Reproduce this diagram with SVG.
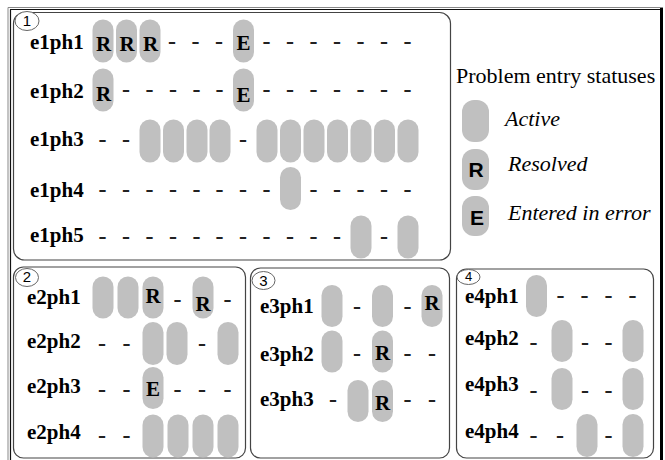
<svg xmlns="http://www.w3.org/2000/svg" width="665" height="460" viewBox="0 0 665 460">
<style>
.frame{fill:none;stroke:#444;stroke-width:1.2}
.p{fill:#c0c0c0}
.lb{font-family:'Liberation Serif',serif;font-weight:bold;font-size:21px;fill:#000}
.pl{font-family:'Liberation Serif',serif;font-weight:bold;font-size:21px;fill:#000;text-anchor:middle}
.d{font-family:'Liberation Serif',serif;font-weight:bold;font-size:24px;fill:#222;text-anchor:middle}
.num{font-family:'Liberation Sans',sans-serif;font-size:15px;fill:#000;text-anchor:middle}
.badge{fill:#fff;stroke:#666;stroke-width:1}
.lg{font-family:'Liberation Serif',serif;font-size:22px;fill:#000}
.lgi{font-family:'Liberation Serif',serif;font-style:italic;font-size:22px;fill:#000}
.ls{font-family:'Liberation Sans',sans-serif;font-weight:bold;font-size:21px;fill:#000;text-anchor:middle}
</style>
<rect width="665" height="460" fill="#fff"/>
<g id="outer-frame">
<line x1="8" y1="7.5" x2="663" y2="7.5" stroke="#888" stroke-width="1"/>
<line x1="10" y1="9.5" x2="660" y2="9.5" stroke="#111" stroke-width="1.2"/>
<line x1="8" y1="7.5" x2="8" y2="460" stroke="#888" stroke-width="1"/>
<line x1="10.5" y1="9.5" x2="10.5" y2="460" stroke="#111" stroke-width="1.2"/>
<rect x="660" y="8" width="3" height="452" fill="#000"/>
</g>

<g id="panel1">
<rect class="frame" x="13.5" y="12.5" width="437" height="247.5" rx="11"/>
<ellipse class="badge" cx="27" cy="21" rx="12" ry="9.5"/>
<text class="num" x="27" y="26">1</text>
<g id="e1ph1">
<text class="lb" x="30" y="48.5">e1ph1</text>
<rect class="p" x="92.5" y="19.5" width="21" height="43" rx="10.5"/>
<rect class="p" x="116" y="19.5" width="21" height="43" rx="10.5"/>
<rect class="p" x="139.5" y="19.5" width="21" height="43" rx="10.5"/>
<rect class="p" x="233" y="19.5" width="21" height="43" rx="10.5"/>
<text class="pl" x="103.5" y="51">R</text>
<text class="pl" x="127" y="51">R</text>
<text class="pl" x="150.5" y="51">R</text>
<text class="pl" x="243.5" y="50">E</text>
<text class="d" x="172" y="48.5">-</text><text class="d" x="195.5" y="48.5">-</text><text class="d" x="219" y="48.5">-</text>
<text class="d" x="266.5" y="48.5">-</text><text class="d" x="290" y="48.5">-</text><text class="d" x="313.5" y="48.5">-</text><text class="d" x="337" y="48.5">-</text><text class="d" x="360.5" y="48.5">-</text><text class="d" x="384" y="48.5">-</text><text class="d" x="407.5" y="48.5">-</text>
</g>
<g id="e1ph2">
<text class="lb" x="30" y="98">e1ph2</text>
<rect class="p" x="92.5" y="68.5" width="21" height="43" rx="10.5"/>
<rect class="p" x="233" y="68.5" width="21" height="43" rx="10.5"/>
<text class="pl" x="103.5" y="100.5">R</text>
<text class="pl" x="243.5" y="102">E</text>
<text class="d" x="126" y="96.5">-</text><text class="d" x="149.5" y="96.5">-</text><text class="d" x="173" y="96.5">-</text><text class="d" x="196.5" y="96.5">-</text><text class="d" x="219.5" y="96.5">-</text>
<text class="d" x="266.5" y="96.5">-</text><text class="d" x="290" y="96.5">-</text><text class="d" x="313.5" y="96.5">-</text><text class="d" x="337" y="96.5">-</text><text class="d" x="360.5" y="96.5">-</text><text class="d" x="384" y="96.5">-</text><text class="d" x="407.5" y="96.5">-</text>
</g>
<g id="e1ph3">
<text class="lb" x="30" y="145.5">e1ph3</text>
<text class="d" x="102.5" y="147">-</text><text class="d" x="126" y="147">-</text>
<rect class="p" x="139.5" y="119.5" width="21" height="43" rx="10.5"/>
<rect class="p" x="163" y="119.5" width="21" height="43" rx="10.5"/>
<rect class="p" x="186.5" y="119.5" width="21" height="43" rx="10.5"/>
<rect class="p" x="209.5" y="119.5" width="21" height="43" rx="10.5"/>
<text class="d" x="243" y="147">-</text>
<rect class="p" x="256.5" y="119.5" width="21" height="43" rx="10.5"/>
<rect class="p" x="280" y="119.5" width="21" height="43" rx="10.5"/>
<rect class="p" x="303.5" y="119.5" width="21" height="43" rx="10.5"/>
<rect class="p" x="327" y="119.5" width="21" height="43" rx="10.5"/>
<rect class="p" x="350.5" y="119.5" width="21" height="43" rx="10.5"/>
<rect class="p" x="374" y="119.5" width="21" height="43" rx="10.5"/>
<rect class="p" x="397.5" y="119.5" width="21" height="43" rx="10.5"/>
</g>
<g id="e1ph4">
<text class="lb" x="30" y="196.5">e1ph4</text>
<text class="d" x="102.5" y="196.5">-</text><text class="d" x="126" y="196.5">-</text><text class="d" x="149.5" y="196.5">-</text><text class="d" x="173" y="196.5">-</text><text class="d" x="196.5" y="196.5">-</text><text class="d" x="219.5" y="196.5">-</text><text class="d" x="243" y="196.5">-</text><text class="d" x="266.5" y="196.5">-</text>
<rect class="p" x="280" y="167" width="21" height="43" rx="10.5"/>
<text class="d" x="313.5" y="196.5">-</text><text class="d" x="337" y="196.5">-</text><text class="d" x="360.5" y="196.5">-</text><text class="d" x="384" y="196.5">-</text><text class="d" x="407.5" y="196.5">-</text>
</g>
<g id="e1ph5">
<text class="lb" x="30" y="242">e1ph5</text>
<text class="d" x="102.5" y="243.5">-</text><text class="d" x="126" y="243.5">-</text><text class="d" x="149.5" y="243.5">-</text><text class="d" x="173" y="243.5">-</text><text class="d" x="196.5" y="243.5">-</text><text class="d" x="219.5" y="243.5">-</text><text class="d" x="243" y="243.5">-</text><text class="d" x="266.5" y="243.5">-</text><text class="d" x="290" y="243.5">-</text><text class="d" x="313.5" y="243.5">-</text><text class="d" x="337" y="243.5">-</text>
<rect class="p" x="350.5" y="215.5" width="21" height="43" rx="10.5"/>
<text class="d" x="384" y="243.5">-</text>
<rect class="p" x="397.5" y="215.5" width="21" height="43" rx="10.5"/>
</g>
</g>

<g id="legend">
<text class="lg" x="456" y="83">Problem entry statuses</text>
<rect class="p" x="462" y="100" width="27" height="42" rx="12"/>
<text class="lgi" x="505" y="126">Active</text>
<rect class="p" x="462" y="149" width="27" height="41" rx="12"/>
<text class="ls" x="476" y="177">R</text>
<text class="lgi" x="508" y="171">Resolved</text>
<rect class="p" x="462" y="196" width="27" height="40" rx="12"/>
<text class="ls" x="477" y="225">E</text>
<text class="lgi" x="508" y="220">Entered in error</text>
</g>

<g id="panel2">
<rect class="frame" x="13.5" y="267" width="232" height="191" rx="10"/>
<ellipse class="badge" cx="27" cy="277.5" rx="11.5" ry="9"/>
<text class="num" x="27" y="282">2</text>
<g id="e2ph1">
<text class="lb" x="27" y="304">e2ph1</text>
<rect class="p" x="92.5" y="276.5" width="21" height="42" rx="10.5"/>
<rect class="p" x="117.5" y="276.5" width="21" height="42" rx="10.5"/>
<rect class="p" x="142.5" y="276.5" width="21" height="42" rx="10.5"/>
<rect class="p" x="192.5" y="276.5" width="21" height="42" rx="10.5"/>
<text class="pl" x="153" y="302.5">R</text>
<text class="d" x="177.5" y="307">-</text>
<text class="pl" x="203" y="311">R</text>
<text class="d" x="227.5" y="307">-</text>
</g>
<g id="e2ph2">
<text class="lb" x="27" y="347.5">e2ph2</text>
<text class="d" x="102" y="350.5">-</text><text class="d" x="126.5" y="350.5">-</text>
<rect class="p" x="142.5" y="322" width="21" height="43" rx="10.5"/>
<rect class="p" x="166.5" y="322" width="21" height="43" rx="10.5"/>
<text class="d" x="202" y="350.5">-</text>
<rect class="p" x="217.5" y="322" width="21" height="43" rx="10.5"/>
</g>
<g id="e2ph3">
<text class="lb" x="27" y="392.5">e2ph3</text>
<text class="d" x="102" y="397">-</text><text class="d" x="126.5" y="397">-</text>
<rect class="p" x="142.5" y="367" width="21" height="42" rx="10.5"/>
<text class="pl" x="153" y="396">E</text>
<text class="d" x="177.5" y="397">-</text><text class="d" x="202" y="397">-</text><text class="d" x="227.5" y="397">-</text>
</g>
<g id="e2ph4">
<text class="lb" x="27" y="438.5">e2ph4</text>
<text class="d" x="102" y="443">-</text><text class="d" x="126.5" y="443">-</text>
<rect class="p" x="142.5" y="414.5" width="21" height="43" rx="10.5"/>
<rect class="p" x="167.5" y="414.5" width="21" height="43" rx="10.5"/>
<rect class="p" x="192.5" y="414.5" width="21" height="43" rx="10.5"/>
<rect class="p" x="217.5" y="414.5" width="21" height="43" rx="10.5"/>
</g>
</g>

<g id="panel3">
<rect class="frame" x="250.5" y="268" width="199" height="190" rx="10"/>
<ellipse class="badge" cx="263.5" cy="280.5" rx="11.5" ry="9"/>
<text class="num" x="263.5" y="286">3</text>
<g id="e3ph1">
<text class="lb" x="260" y="312.5">e3ph1</text>
<rect class="p" x="321.5" y="285" width="21" height="42" rx="10.5"/>
<text class="d" x="357" y="313.5">-</text>
<rect class="p" x="372" y="285" width="21" height="42" rx="10.5"/>
<text class="d" x="407.5" y="313.5">-</text>
<rect class="p" x="421.5" y="285" width="21" height="42" rx="10.5"/>
<text class="pl" x="432" y="309.5">R</text>
</g>
<g id="e3ph2">
<text class="lb" x="260" y="361">e3ph2</text>
<rect class="p" x="321.5" y="330.5" width="21" height="42" rx="10.5"/>
<text class="d" x="357" y="360.5">-</text>
<rect class="p" x="372" y="330.5" width="21" height="42" rx="10.5"/>
<text class="pl" x="382.5" y="359.5">R</text>
<text class="d" x="407.5" y="360.5">-</text><text class="d" x="432" y="360.5">-</text>
</g>
<g id="e3ph3">
<text class="lb" x="260" y="406">e3ph3</text>
<text class="d" x="333" y="407">-</text>
<rect class="p" x="347.5" y="380" width="21" height="42" rx="10.5"/>
<rect class="p" x="372" y="380" width="21" height="42" rx="10.5"/>
<text class="pl" x="382.5" y="409.5">R</text>
<text class="d" x="407.5" y="407">-</text><text class="d" x="432" y="407">-</text>
</g>
</g>

<g id="panel4">
<rect class="frame" x="456.5" y="269" width="197" height="189" rx="10"/>
<ellipse class="badge" cx="468.5" cy="277" rx="11.5" ry="7.5"/>
<text class="num" x="468.5" y="280.5" style="font-size:13px">4</text>
<g id="e4ph1">
<text class="lb" x="465" y="302.5">e4ph1</text>
<rect class="p" x="526" y="275" width="21" height="42" rx="10.5"/>
<text class="d" x="560.5" y="303">-</text><text class="d" x="584.5" y="303">-</text><text class="d" x="608.5" y="303">-</text><text class="d" x="632.5" y="303">-</text>
</g>
<g id="e4ph2">
<text class="lb" x="465" y="344.5">e4ph2</text>
<text class="d" x="533.5" y="349.5">-</text>
<rect class="p" x="551.5" y="320" width="21" height="42" rx="10.5"/>
<text class="d" x="585" y="349.5">-</text><text class="d" x="608.5" y="349.5">-</text>
<rect class="p" x="622.5" y="320" width="21" height="42" rx="10.5"/>
</g>
<g id="e4ph3">
<text class="lb" x="465" y="391">e4ph3</text>
<text class="d" x="533.5" y="397.5">-</text>
<rect class="p" x="551.5" y="368" width="21" height="42" rx="10.5"/>
<text class="d" x="585" y="397.5">-</text><text class="d" x="608.5" y="397.5">-</text>
<rect class="p" x="622.5" y="368" width="21" height="42" rx="10.5"/>
</g>
<g id="e4ph4">
<text class="lb" x="465" y="438">e4ph4</text>
<text class="d" x="533.5" y="443">-</text><text class="d" x="560" y="443">-</text>
<rect class="p" x="576.5" y="414" width="21" height="43" rx="10.5"/>
<text class="d" x="608.5" y="443">-</text>
<rect class="p" x="622.5" y="414" width="21" height="43" rx="10.5"/>
</g>
</g>
</svg>
